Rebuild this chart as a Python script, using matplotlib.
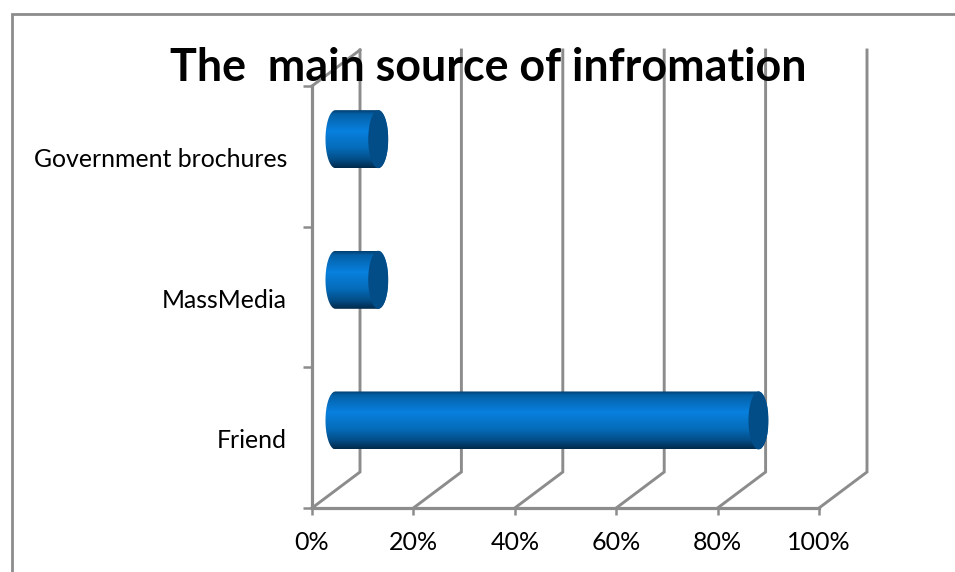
import numpy as np
import matplotlib
matplotlib.use("Agg")
import matplotlib.pyplot as plt
from matplotlib.colors import LinearSegmentedColormap
from matplotlib.lines import Line2D
from matplotlib.patches import Ellipse, Polygon
from matplotlib.transforms import ScaledTranslation

# Survey shares, in percent
categories = ["Friend", "MassMedia", "Government brochures"]
shares = [83.33, 8.33, 8.33]
x_ticks = [0, 20, 40, 60, 80, 100]
x_tick_labels = ["0%", "20%", "40%", "60%", "80%", "100%"]
title_text = "The  main source of infromation"

W, H = 955, 572
GRID = "#8c8c8c"
plt.rcParams["font.family"] = ["Lato", "DejaVu Sans"]

fig = plt.figure(figsize=(W / 100, H / 100), dpi=100, facecolor="white")
ax = fig.add_axes([312 / W, (H - 508) / H, 507 / W, 422 / H])
ax.patch.set_visible(False)
for side in ax.spines.values():
    side.set_visible(False)

# Oblique depth of the pseudo-3D box, in data units
px_x = 100 / 507
px_y = 3 / 422
depth_x = 48 * px_x
depth_y = 36 * px_y
y_lo, y_hi = -0.5, 2.5

# Back wall and floor
for t in x_ticks:
    ax.plot([t, t + depth_x, t + depth_x], [y_lo, y_lo + depth_y, y_hi + depth_y],
            color=GRID, lw=2.1, clip_on=False, zorder=1, solid_joinstyle="miter")
# Left wall top edge
ax.plot([0, depth_x], [y_hi, y_hi + depth_y], color=GRID, lw=2.1, clip_on=False, zorder=1)
# Front axis lines
ax.plot([0, 0], [y_lo, y_hi], color=GRID, lw=2.3, clip_on=False, zorder=2)
ax.plot([0, 100], [y_lo, y_lo], color=GRID, lw=2.3, clip_on=False, zorder=2)

# Cylinder shading runs across the height of each bar
shade = LinearSegmentedColormap.from_list("cyl", [
    (0.00, "#023f6e"), (0.07, "#0460a6"), (0.36, "#0880de"),
    (0.65, "#056cba"), (0.86, "#034c84"), (1.00, "#01294a")])
gradient = np.linspace(0, 1, 256).reshape(-1, 1)

half_h = 29 * px_y
half_w = 10 * px_x
for pos, value in enumerate(shares):
    x0 = depth_x / 2 - 0.1
    x1 = x0 + value + 0.1
    yc = pos + depth_y / 2 - 0.8 * px_y
    t = np.linspace(-np.pi / 2, np.pi / 2, 80)
    right = np.column_stack([x1 + half_w * np.cos(t), yc + half_h * np.sin(t)])
    left = np.column_stack([x0 - half_w * np.cos(t[::-1]), yc + half_h * np.sin(t[::-1])])
    outline = Polygon(np.vstack([right, left]), closed=True, transform=ax.transData,
                      fc="none", ec="none")
    ax.add_patch(outline)
    body = ax.imshow(gradient, cmap=shade, aspect="auto", origin="upper", zorder=3,
                     extent=[x0 - half_w, x1 + half_w, yc - half_h, yc + half_h])
    body.set_clip_path(outline)
    ax.add_patch(Ellipse((x1, yc), 2 * half_w, 2 * half_h, fc="#024d88", ec="none", zorder=4))

ax.set_xlim(0, 100)
ax.set_ylim(y_lo, y_hi)

# Value axis
ax.set_xticks(x_ticks, x_tick_labels, fontsize=18, color="black")
ax.tick_params(axis="x", length=5, width=1.8, color=GRID, pad=11.5)

# Category axis: labels sit at the band centres, ticks at the band edges
ax.set_yticks(range(len(categories)), categories, fontsize=17.9, color="black")
ax.tick_params(axis="y", length=0, pad=18)
ax.set_yticks([-0.5, 0.5, 1.5, 2.5], minor=True)
ax.tick_params(axis="y", which="minor", length=6.5, width=1.8, color=GRID)
nudge = ScaledTranslation(0, -1 / 100, fig.dpi_scale_trans)
for label in ax.get_yticklabels():
    label.set_transform(label.get_transform() + nudge)

# Chart title overlaps the top of the plot box
fig.text(488 / W, 1 - 68 / H, title_text, ha="center", va="center",
         fontsize=32.3, fontweight="bold", color="black", zorder=10)

# Chart area border, open at the right and bottom
fig.add_artist(Line2D([12 / W, 12 / W, 1], [0, 1 - 14 / H, 1 - 14 / H],
                      color="#8c8c8c", lw=2.0, solid_joinstyle="miter"))

fig.savefig("out.png", dpi=100, facecolor="white")
